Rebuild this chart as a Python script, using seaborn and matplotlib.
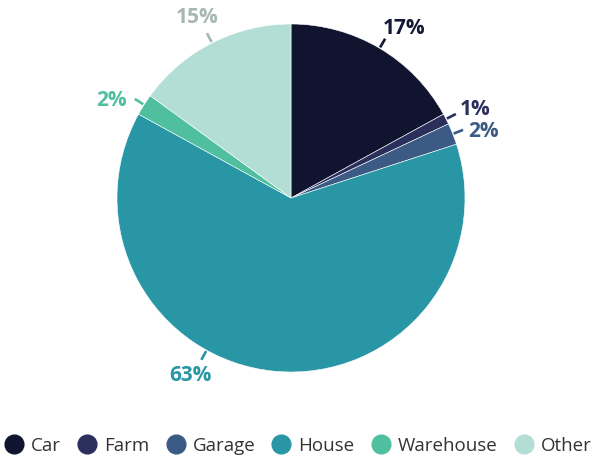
import numpy as np
import matplotlib.pyplot as plt
import seaborn as sns
from matplotlib.lines import Line2D

# data
categories = ["Car", "Farm", "Garage", "House", "Warehouse", "Other"]
shares = [17, 1, 2, 63, 2, 15]
slice_colors = ["#10142f", "#2b2f5c", "#3b5b84", "#2896a5", "#4fbfa0", "#b3ded6"]
label_colors = ["#141834", "#2b2f5c", "#3b5b84", "#2896a5", "#4fbfa0", "#a7b7b3"]

sns.set_theme(style="white")
plt.rcParams['font.family'] = ['Open Sans', 'DejaVu Sans']

W, H = 596, 457
fig = plt.figure(figsize=(W / 100, H / 100), dpi=100)
ax = fig.add_axes([0, 0, 1, 1])

cx, cy, r = 291, H - 198, 174
pal = sns.color_palette(slice_colors)
wedges, _ = ax.pie(shares, colors=pal, startangle=90, counterclock=False,
                   center=(cx, cy), radius=r, frame=True,
                   wedgeprops=dict(edgecolor="white", linewidth=0.4))
ax.set_xlim(0, W)
ax.set_ylim(0, H)
ax.set_aspect('equal')
ax.axis('off')

# connector angle overrides (deg clockwise from top) where the label was moved
line_angle_override = {"House": 209}
# small nudges of the text around the centre (deg)
text_nudge = {"Car": 3.2, "Farm": 1.3, "Garage": 2.6, "House": 0.5,
              "Warehouse": -4.0, "Other": -0.5}

for name, val, wdg, col in zip(categories, shares, wedges, label_colors):
    mid = (90 - (wdg.theta1 + wdg.theta2) / 2) % 360  # cw from top
    ang = line_angle_override.get(name, mid)
    a = np.deg2rad(ang)
    sx, sy = np.sin(a), np.cos(a)
    ax.plot([cx + (r + 1) * sx, cx + (r + 11) * sx],
            [cy + (r + 1) * sy, cy + (r + 11) * sy],
            color=col, lw=1.9, solid_capstyle='butt')
    t = np.deg2rad(ang + text_nudge.get(name, 0))
    ax.text(cx + 204 * np.sin(t), cy + 204 * np.cos(t), f"{val}%",
            color=col, fontsize=15, fontweight='bold',
            ha='center', va='center')

handles = [Line2D([0], [0], marker='o', linestyle='', markersize=13.5,
                  markerfacecolor=c, markeredgecolor=c) for c in slice_colors]
fig.legend(handles, categories, loc='center', bbox_to_anchor=(0.5, 1 - 446 / H),
           ncol=6, frameon=False, fontsize=13.5, handlelength=1,
           handletextpad=0.4, columnspacing=0.9, borderpad=0,
           labelcolor="#333333")

fig.savefig("out.png", dpi=100)
